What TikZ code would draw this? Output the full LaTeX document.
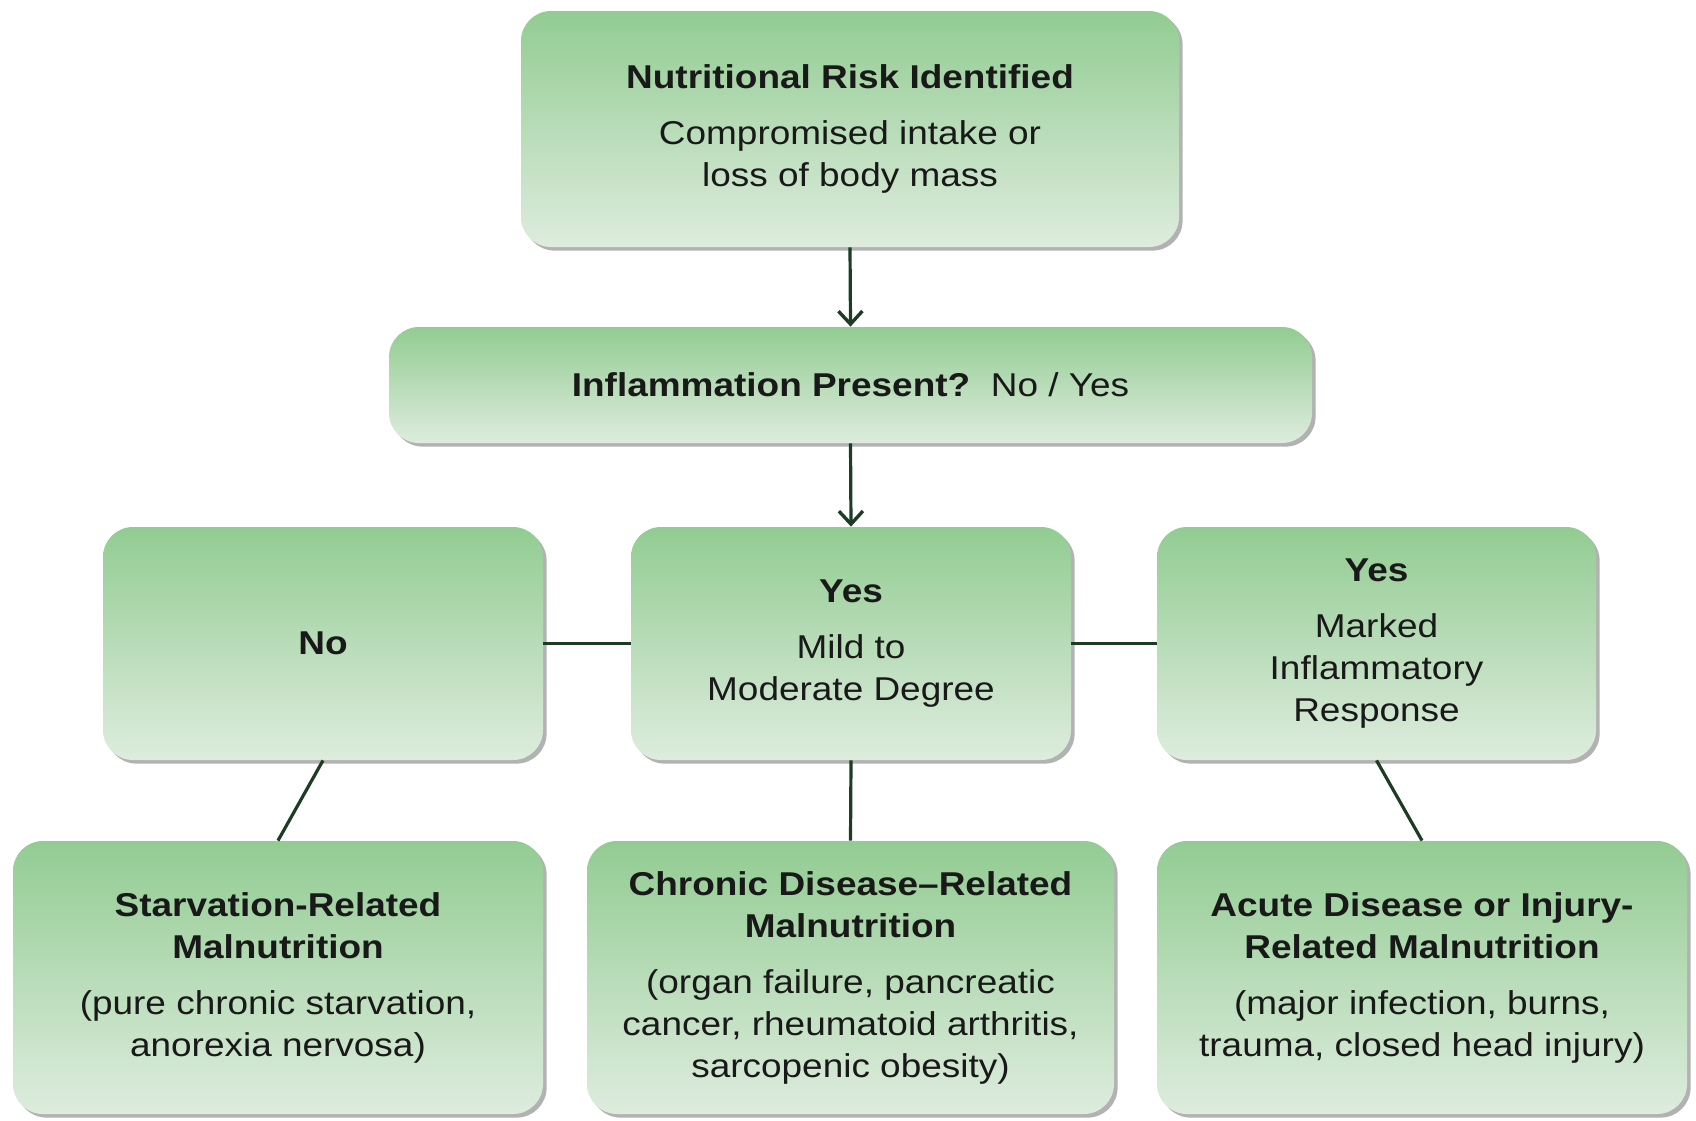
\documentclass[tikz,border=0pt]{standalone}
\usepackage{fontspec}
\setmainfont{Liberation Sans}[FakeStretch=1.12]
\usetikzlibrary{shadows,arrows.meta}
\definecolor{gtop}{RGB}{146,204,146}
\definecolor{gbot}{RGB}{222,236,222}
\definecolor{lnk}{RGB}{28,60,36}
\definecolor{txt}{RGB}{25,25,25}
\tikzset{
  box/.style={rounded corners=15pt, top color=gtop, bottom color=gbot, draw=none,
    drop shadow={shadow xshift=1.8pt, shadow yshift=-1.8pt, fill=black!60, opacity=.5},
    align=center, text=txt, inner sep=4pt,
    font=\fontsize{16.5}{21}\selectfont},
  link/.style={draw=lnk, line width=1.6pt},
  arr/.style={link, -{Straight Barb[length=6.5pt,width=12pt,line width=1.7pt]}},
}
\newcommand{\ttl}[1]{\textbf{#1}}
\begin{document}
\begin{tikzpicture}[x=0.5pt,y=-0.5pt]
\useasboundingbox (0,0) rectangle (1696,1120);
\node[box, minimum width=329pt, minimum height=118pt] (top) at (850,129)
  {\ttl{Nutritional Risk Identified}\\[7pt] Compromised intake or\\ loss of body mass};
\node[box, minimum width=461.5pt, minimum height=58pt] (inf) at (850.5,385)
  {\ttl{Inflammation Present?}\ \ No / Yes};
\node[box, minimum width=220pt, minimum height=116.5pt] (no) at (323,643.5)
  {\ttl{No}};
\node[box, minimum width=220pt, minimum height=116.5pt] (mid) at (851,643.5)
  {\ttl{Yes}\\[7pt] Mild to\\ Moderate Degree};
\node[box, minimum width=219.5pt, minimum height=116.5pt] (yes) at (1376.5,643.5)
  {\ttl{Yes}\\[7pt] Marked\\ Inflammatory\\ Response};
\node[box, minimum width=265pt, minimum height=136.5pt] (starv) at (278,977.5)
  {\ttl{Starvation-Related}\\ \ttl{Malnutrition}\\[7pt] (pure chronic starvation,\\ anorexia nervosa)};
\node[box, minimum width=263.5pt, minimum height=136.5pt] (chron) at (850.5,977.5)
  {\ttl{Chronic Disease–Related}\\ \ttl{Malnutrition}\\[7pt] (organ failure, pancreatic\\ cancer, rheumatoid arthritis,\\ sarcopenic obesity)};
\node[box, minimum width=265pt, minimum height=136.5pt] (acute) at (1422,977.5)
  {\ttl{Acute Disease or Injury-}\\ \ttl{Related Malnutrition}\\[7pt] (major infection, burns,\\ trauma, closed head injury)};
\draw[arr] (top.south) -- (inf.north);
\draw[arr] (inf.south) -- (mid.north);
\draw[link] (no.east) -- (mid.west);
\draw[link] (mid.east) -- (yes.west);
\draw[link] (no.south) -- (starv.north);
\draw[link] (mid.south) -- (chron.north);
\draw[link] (yes.south) -- (acute.north);
\end{tikzpicture}
\end{document}
